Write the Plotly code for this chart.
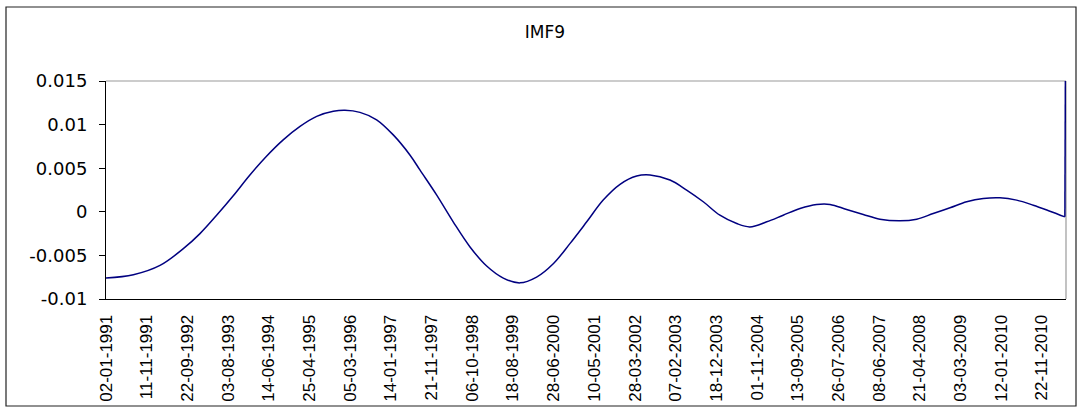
import plotly.graph_objects as go

# ---- data (observation index of trading days, value) ----
obs_index = [0, 148, 292, 418, 508, 598, 688, 778, 869, 958, 1049, 1139, 1229, 1292,
             1373, 1463, 1553, 1643, 1697, 1788, 1877, 1968, 2058, 2148, 2238,
             2328, 2418, 2508, 2599, 2688, 2779, 2869, 2941, 3049, 3139, 3229, 3319,
             3410, 3481, 3572, 3661, 3752, 3842, 3914, 4004, 4094, 4184, 4292, 4383,
             4472, 4563, 4653, 4743, 4833, 4923, 5013, 5103, 5184, 5189]
imf9 = [-0.0076, -0.00722, -0.00615, -0.00423, -0.0025, -0.0004, 0.00184, 0.00422,
        0.0064, 0.00825, 0.00979, 0.01094, 0.01152, 0.01164, 0.0114, 0.01055, 0.00882,
        0.00652, 0.0048, 0.00191, -0.00115, -0.00403, -0.00622, -0.0076,
        -0.00815, -0.00749, -0.00596, -0.00365, -0.00115, 0.00134, 0.00315, 0.0041,
        0.00422, 0.00364, 0.00249, 0.00115, -0.00039, -0.00135, -0.00173, -0.00115,
        -0.00039, 0.00038, 0.00084, 0.00085, 0.00026, -0.00031, -0.00085, -0.00104,
        -0.00085, -0.0002, 0.00046, 0.00115, 0.00153, 0.00161, 0.00134, 0.00076,
        0.00007, -0.00058, 0.03]

date_labels = ["02-01-1991", "11-11-1991", "22-09-1992", "03-08-1993", "14-06-1994",
               "25-04-1995", "05-03-1996", "14-01-1997", "21-11-1997", "06-10-1998",
               "18-08-1999", "28-06-2000", "10-05-2001", "28-03-2002", "07-02-2003",
               "18-12-2003", "01-11-2004", "13-09-2005", "26-07-2006", "08-06-2007",
               "21-04-2008", "03-03-2009", "12-01-2010", "22-11-2010"]
label_step = 220
n_obs = 5190

y_tickvals = [-0.01, -0.005, 0, 0.005, 0.01, 0.015]
y_ticktext = ["-0.01", "-0.005", "0", "0.005", "0.01", "0.015"]

# ---- layout geometry (pixels) ----
W, H = 1083, 409
L, R, T, B = 106, 17, 81, 110
pw, ph = W - L - R, H - T - B


def px_x(p):
    return (p - L) / pw


def px_y(p):
    return (H - B - p) / ph


line_style = dict(color="#000080", width=1.5)

fig = go.Figure()
# smooth body of the curve
fig.add_trace(go.Scatter(
    x=obs_index[:-1], y=imf9[:-1], mode="lines",
    line=dict(shape="spline", smoothing=1, **line_style),
    showlegend=False, hoverinfo="skip"))
# final jump (runs off the top of the axis)
fig.add_trace(go.Scatter(
    x=obs_index[-2:], y=imf9[-2:], mode="lines",
    line=line_style, showlegend=False, hoverinfo="skip"))

fig.update_layout(
    width=W, height=H, autosize=False,
    margin=dict(l=L, r=R, t=T, b=B, pad=0),
    paper_bgcolor="white", plot_bgcolor="white",
    title=dict(text="IMF9", x=545 / W, xanchor="center", xref="container",
               y=1 - 32 / H, yanchor="middle", yref="container",
               font=dict(family="DejaVu Sans", size=17, color="black"),
               automargin=False),
    xaxis=dict(
        range=[0, n_obs], showgrid=False, zeroline=False, automargin=False,
        showline=True, linecolor="black", linewidth=1,
        tickmode="array",
        tickvals=[i * label_step for i in range(len(date_labels))],
        ticktext=date_labels, tickangle=-90, ticks="",
        tickfont=dict(family="Liberation Sans", size=17, color="black"),
        ticklabelstandoff=8,
    ),
    yaxis=dict(
        range=[-0.01, 0.015], showgrid=False, zeroline=False, automargin=False,
        showline=True, linecolor="black", linewidth=1,
        tickmode="array", tickvals=y_tickvals, ticktext=y_ticktext,
        ticks="outside", ticklen=6, tickcolor="black", tickwidth=1,
        tickfont=dict(family="DejaVu Sans", size=18, color="black"),
        ticklabelstandoff=8,
    ),
    shapes=[
        # plot-area top and right border (gray)
        dict(type="line", xref="paper", yref="paper", x0=0, x1=1, y0=1, y1=1,
             line=dict(color="#9a9a9a", width=1.2), layer="below"),
        dict(type="line", xref="paper", yref="paper", x0=1, x1=1, y0=0, y1=1,
             line=dict(color="#9a9a9a", width=1.2), layer="below"),
        # outer chart border
        dict(type="rect", xref="paper", yref="paper",
             x0=px_x(6), x1=px_x(1076), y0=px_y(406), y1=px_y(7),
             line=dict(color="#222222", width=1.2), fillcolor="rgba(0,0,0,0)"),
    ],
)

fig.write_html("out.html",
               config={"displayModeBar": False, "staticPlot": True},
               post_script="document.body.style.margin='0';document.body.style.overflow='hidden';")
